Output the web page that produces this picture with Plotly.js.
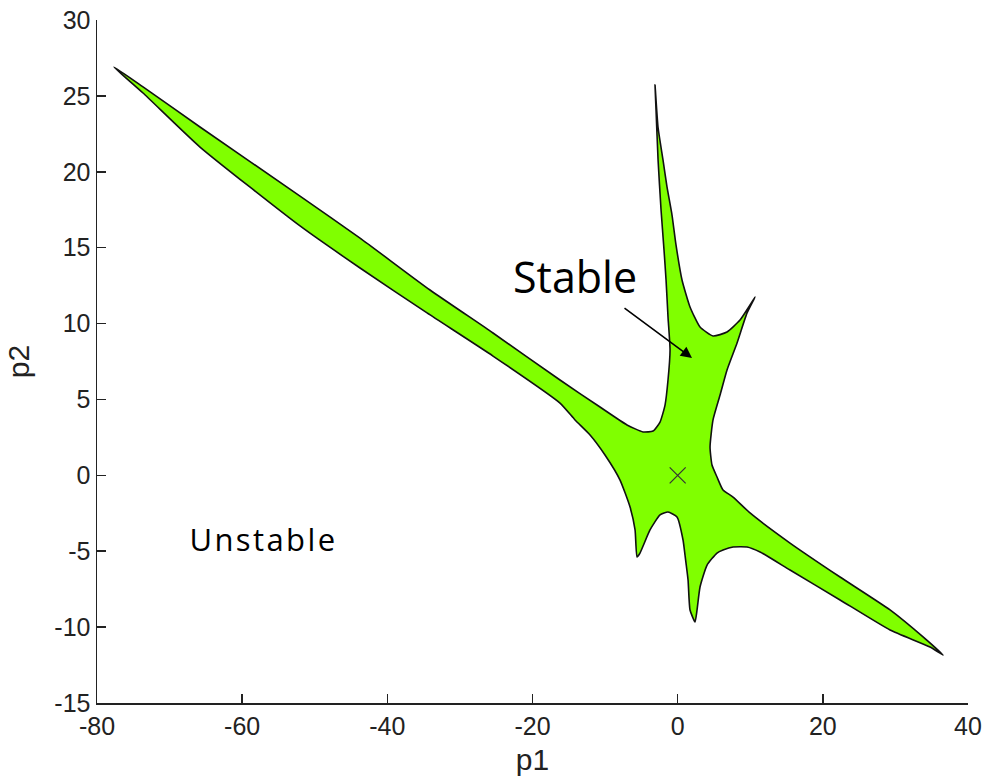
<!DOCTYPE html>
<html>
<head>
<meta charset="utf-8">
<script src="https://cdn.plot.ly/plotly-3.0.1.min.js"></script>
<style>
  html, body { margin: 0; padding: 0; background: #ffffff; }
  #chart { width: 984px; height: 782px; }
  /* slightly wider letter spacing for the "Unstable" label */
  #chart g.annotation[data-index="1"] text { letter-spacing: 2.4px; }
</style>
</head>
<body>
<div id="chart"></div>
<script>
// Boundary of the stability region in the (p1, p2) parameter plane,
// traced as one closed contour.
const p1Boundary = [
  -77.66, -73.66, -65.81, -52.03, -43.76, -34.12, -25.44, -16.21, -10.70, -6.98,
  -4.77, -3.39, -2.43, -1.74,
  -1.33, -1.05, -1.33, -1.60, -1.88, -2.29, -2.70, -2.98, -3.12,
  -2.71, -2.02, -1.47, -0.78, -0.23, 0.60, 1.70, 3.08, 4.87, 6.80, 8.59, 9.97, 10.66,
  9.56, 8.18, 6.80, 5.84, 4.87, 4.46, 4.73, 5.42, 6.25, 7.63, 9.97, 15.48, 22.37, 29.26, 33.81, 36.56,
  34.77, 29.26, 22.37, 15.48, 11.35, 9.56, 7.63, 6.25, 5.42, 4.05, 3.08, 2.67, 2.39,
  1.70, 1.43, 1.01, 0.74, -0.09, -1.33, -2.43, -3.81, -5.19, -5.60,
  -5.87, -6.56, -7.94, -10.01, -12.07, -14.14, -16.21, -25.44, -34.53, -43.76, -52.03, -65.81, -73.66,
  -77.66
];
const p2Boundary = [
  26.90, 25.59, 22.95, 18.40, 15.63, 12.21, 9.38, 6.28, 4.50, 3.32,
  2.86, 2.92, 3.51, 4.63,
  6.28, 8.26, 10.43, 12.87, 14.85, 17.48, 20.78, 24.07, 25.72,
  22.95, 20.78, 19.00, 17.15, 15.18, 12.87, 11.09, 9.77, 9.18, 9.44, 10.23, 11.22, 11.75,
  10.70, 8.72, 6.94, 5.29, 3.65, 1.87, 0.68, -0.11, -0.97, -1.43, -2.48, -4.46, -6.70, -8.87, -10.65, -11.84,
  -11.31, -10.19, -8.21, -6.24, -5.05, -4.72, -4.72, -4.92, -5.12, -5.91, -7.36, -8.87, -9.66,
  -8.87, -6.89, -5.25, -4.26, -2.74, -2.42, -2.61, -3.60, -5.12, -5.38,
  -3.60, -2.09, -0.31, 1.34, 2.66, 3.65, 4.76, 7.86, 10.70, 13.66, 16.43, 21.63, 25.19,
  26.90
];

// Nominal operating point
const p1Nominal = [0];
const p2Nominal = [0];

// Axis ticks
const p1Ticks = [-80, -60, -40, -20, 0, 20, 40];
const p2Ticks = [-15, -10, -5, 0, 5, 10, 15, 20, 25, 30];

const tickFont = { family: 'Liberation Sans, Arial, sans-serif', size: 25, color: '#222222' };
const titleFont = { family: 'Liberation Sans, Arial, sans-serif', size: 30, color: '#222222' };

const traces = [
  {
    x: p1Boundary,
    y: p2Boundary,
    type: 'scatter',
    mode: 'lines',
    fill: 'toself',
    fillcolor: '#80ff00',
    line: { color: '#111111', width: 1.6, shape: 'spline', smoothing: 0.5 },
    hoverinfo: 'skip',
    showlegend: false
  },
  {
    x: p1Nominal,
    y: p2Nominal,
    type: 'scatter',
    mode: 'markers',
    marker: { symbol: 'x-thin-open', size: 16, line: { color: '#333333', width: 1.2 }, color: '#333333' },
    hoverinfo: 'skip',
    showlegend: false
  }
];

const layout = {
  width: 984,
  height: 782,
  margin: { l: 97, r: 16, t: 20, b: 79 },
  paper_bgcolor: '#ffffff',
  plot_bgcolor: '#ffffff',
  showlegend: false,
  xaxis: {
    range: [-80, 40],
    tickvals: p1Ticks,
    ticktext: p1Ticks.map(String),
    ticks: 'inside',
    ticklen: 9,
    tickwidth: 1.5,
    tickcolor: '#222222',
    showline: true,
    linecolor: '#222222',
    linewidth: 1.5,
    showgrid: false,
    zeroline: false,
    tickfont: tickFont,
    title: { text: 'p1', font: titleFont, standoff: 10 },
    fixedrange: true
  },
  yaxis: {
    range: [-15, 30],
    tickvals: p2Ticks,
    ticktext: p2Ticks.map(String),
    ticks: 'inside',
    ticklen: 9,
    tickwidth: 1.5,
    tickcolor: '#222222',
    showline: true,
    linecolor: '#222222',
    linewidth: 1.5,
    showgrid: false,
    zeroline: false,
    tickfont: tickFont,
    title: { text: 'p2', font: titleFont, standoff: 16 },
    fixedrange: true
  },
  annotations: [
    {
      x: -14.1, y: 13.1, xref: 'x', yref: 'y',
      text: 'Stable', showarrow: false,
      font: { family: 'Open Sans, sans-serif', size: 43, color: '#000000' }
    },
    {
      x: -57.1, y: -4.2, xref: 'x', yref: 'y',
      text: 'Unstable', showarrow: false,
      font: { family: 'Open Sans, sans-serif', size: 31, color: '#000000' }
    },
    {
      x: 1.98, y: 7.73, xref: 'x', yref: 'y',
      ax: -7.53, ay: 11.09, axref: 'x', ayref: 'y',
      text: '', showarrow: true,
      arrowhead: 2, arrowsize: 1.4, arrowwidth: 1.6, arrowcolor: '#000000'
    }
  ]
};

Plotly.newPlot('chart', traces, layout, { staticPlot: true, displayModeBar: false });
</script>
</body>
</html>
